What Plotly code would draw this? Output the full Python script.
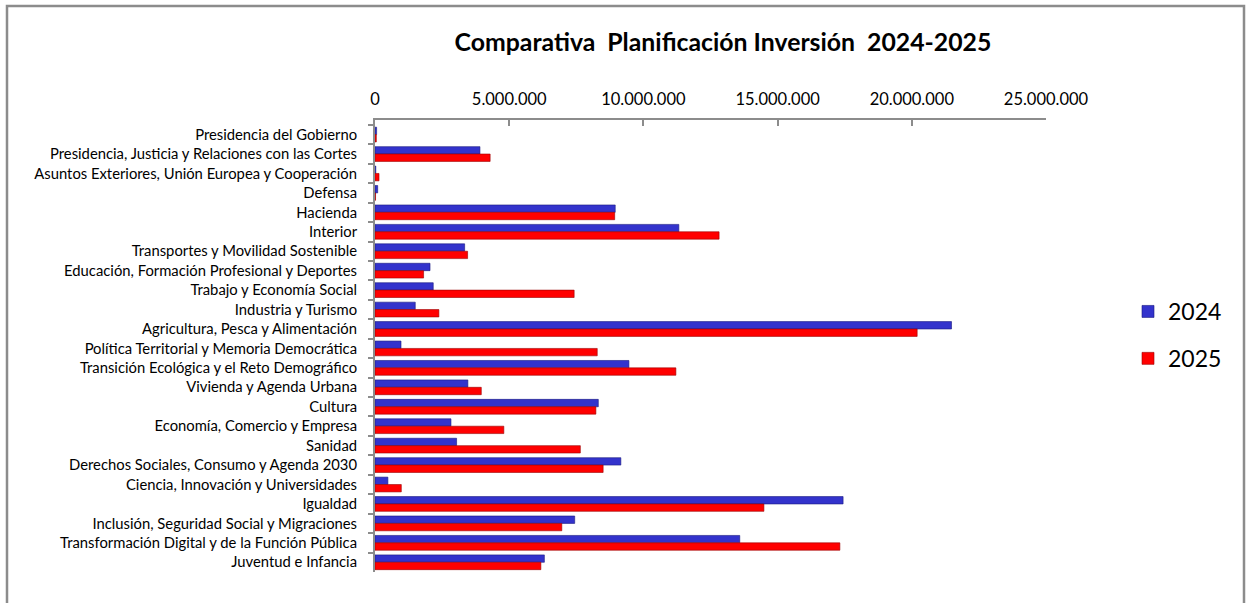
import plotly.graph_objects as go

categories = [
    "Presidencia del Gobierno",
    "Presidencia, Justicia y Relaciones con las Cortes",
    "Asuntos Exteriores, Unión Europea y Cooperación",
    "Defensa",
    "Hacienda",
    "Interior",
    "Transportes y Movilidad Sostenible",
    "Educación, Formación Profesional y Deportes",
    "Trabajo y Economía Social",
    "Industria y Turismo",
    "Agricultura, Pesca y Alimentación",
    "Política Territorial y Memoria Democrática",
    "Transición Ecológica y el Reto Demográfico",
    "Vivienda y Agenda Urbana",
    "Cultura",
    "Economía, Comercio y Empresa",
    "Sanidad",
    "Derechos Sociales, Consumo y Agenda 2030",
    "Ciencia, Innovación y Universidades",
    "Igualdad",
    "Inclusión, Seguridad Social y Migraciones",
    "Transformación Digital y de la Función Pública",
    "Juventud e Infancia",
]

values_2024 = [60000, 3910000, 30000, 100000, 8950000, 11320000, 3340000, 2050000,
               2170000, 1500000, 21480000, 970000, 9460000, 3460000, 8320000, 2830000,
               3040000, 9160000, 480000, 17440000, 7440000, 13590000, 6310000]

values_2025 = [50000, 4290000, 150000, 20000, 8930000, 12820000, 3450000, 1810000,
               7420000, 2380000, 20200000, 8280000, 11210000, 3960000, 8230000, 4800000,
               7650000, 8500000, 980000, 14490000, 6960000, 17320000, 6180000]

series_names = ["2024", "2025"]
title_text = "Comparativa  Planificación Inversión  2024-2025"

FONT = "Lato, Carlito, Calibri, 'Open Sans', sans-serif"

fig = go.Figure()
fig.add_trace(go.Bar(
    y=categories, x=values_2024, name=series_names[0], orientation="h",
    marker=dict(color="#3333CC", line=dict(color="#1a1a80", width=0.6)),
    legendgroup="a",
))
fig.add_trace(go.Bar(
    y=categories, x=values_2025, name=series_names[1], orientation="h",
    marker=dict(color="#FF0000", line=dict(color="#990000", width=0.6)),
    legendgroup="b",
))

W, H = 1247, 603
L, R, T, B = 375, 1046, 120, 572
pw, ph = R - L, B - T

def px(x):
    return (x - L) / pw

def py(y):
    return (B - y) / ph

fig.update_layout(
    width=W, height=H,
    margin=dict(l=L, r=W - R, t=T, b=H - B, pad=0),
    paper_bgcolor="white", plot_bgcolor="white",
    barmode="group", bargap=0.24, bargroupgap=0,
    separators=",.",
    font=dict(family=FONT, color="black"),
    title=dict(text="<b>" + title_text + "</b>", x=723 / W, xref="container",
               xanchor="center", y=1 - 42 / H, yref="container", yanchor="middle",
               font=dict(size=24.8, family=FONT, color="black")),
    legend=dict(x=px(1128), y=py(290), xanchor="left", yanchor="top",
                font=dict(size=23, family=FONT), tracegroupgap=14,
                traceorder="grouped", bgcolor="rgba(0,0,0,0)"),
    showlegend=True,
)

fig.update_xaxes(
    side="top", range=[0, 25000000], dtick=5000000, tick0=0,
    tickformat=",d", showgrid=False, zeroline=False,
    showline=True, linecolor="#8c8c8c", linewidth=2,
    ticks="inside", ticklen=6, tickcolor="#8c8c8c", tickwidth=2,
    tickfont=dict(size=16.5, family=FONT, color="black"),
    ticklabelstandoff=6,
)
fig.update_yaxes(
    range=[22.5, -0.75], showgrid=False, zeroline=False,
    showline=True, linecolor="#8c8c8c", linewidth=2,
    ticks="outside", ticklen=5, tickcolor="#8c8c8c", tickwidth=2,
    tickson="boundaries",
    tickfont=dict(size=14.8, family=FONT, color="black"),
    ticklabelstandoff=13,
)

fig.add_shape(type="rect", xref="paper", yref="paper",
              x0=px(7), x1=px(1244), y0=py(640), y1=py(6),
              line=dict(color="#8c8c8c", width=2.5), fillcolor="rgba(0,0,0,0)",
              layer="below")

fig.write_html("out.html")
